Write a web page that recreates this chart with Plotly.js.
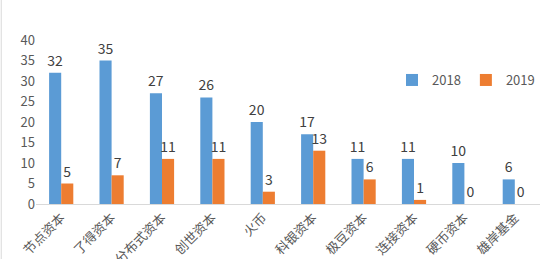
<!DOCTYPE html>
<html>
<head>
<meta charset="utf-8">
<script src="https://cdn.plot.ly/plotly-3.0.1.min.js"></script>
<style>
  html, body { margin: 0; padding: 0; background: #fff; }
  #chart { width: 555px; height: 259px; }
</style>
</head>
<body>
<div id="chart"></div>
<script>
// Investment counts per institution, 2018 vs 2019
const institutions = ['节点资本', '了得资本', '分布式资本', '创世资本', '火币', '科银资本', '极豆资本', '连接资本', '硬币资本', '雄岸基金'];
const counts2018 = [32, 35, 27, 26, 20, 17, 11, 11, 10, 6];
const counts2019 = [5, 7, 11, 11, 3, 13, 6, 1, 0, 0];

const font = '"Noto Sans CJK SC", "Microsoft YaHei", sans-serif';
const labelFont = { family: font, size: 14, color: '#404040' };

function barTrace(name, values, color) {
  return {
    type: 'bar', name: name, x: institutions, y: values,
    marker: { color: color },
    text: values.map(String), textposition: 'outside', cliponaxis: false,
    constraintext: 'none', textfont: labelFont, outsidetextfont: labelFont,
    hoverinfo: 'skip'
  };
}

const traces = [
  barTrace('2018', counts2018, '#5B9BD5'),
  barTrace('2019', counts2019, '#ED7D31')
];

const layout = {
  width: 555, height: 259,
  margin: { l: 36, r: 15, t: 40, b: 55 },
  paper_bgcolor: '#fff', plot_bgcolor: '#fff',
  font: { family: font, size: 13, color: '#595959' },
  barmode: 'group', bargap: 0.52, bargroupgap: 0,
  showlegend: true,
  legend: {
    orientation: 'h', x: 1.0, xanchor: 'right', y: 0.756, yanchor: 'middle',
    font: { family: font, size: 13, color: '#595959' },
    itemwidth: 30, bgcolor: 'rgba(0,0,0,0)'
  },
  xaxis: {
    type: 'category', tickangle: -45, showgrid: false,
    showline: true, linecolor: '#d9d9d9', linewidth: 1,
    ticks: '', tickfont: { family: font, size: 13, color: '#595959' },
    fixedrange: true
  },
  yaxis: {
    range: [0, 40], dtick: 5, showgrid: false, zeroline: false,
    showline: false, ticks: '',
    tickfont: { family: font, size: 13, color: '#595959' },
    fixedrange: true
  },
  shapes: [{
    // thin frame line along the left edge of the figure
    type: 'line', xref: 'paper', yref: 'paper',
    x0: -0.069, x1: -0.069, y0: -0.34, y1: 1.25,
    line: { color: '#d9d9d9', width: 1 }
  }]
};

Plotly.newPlot('chart', traces, layout, { displayModeBar: false, staticPlot: true });
</script>
</body>
</html>
